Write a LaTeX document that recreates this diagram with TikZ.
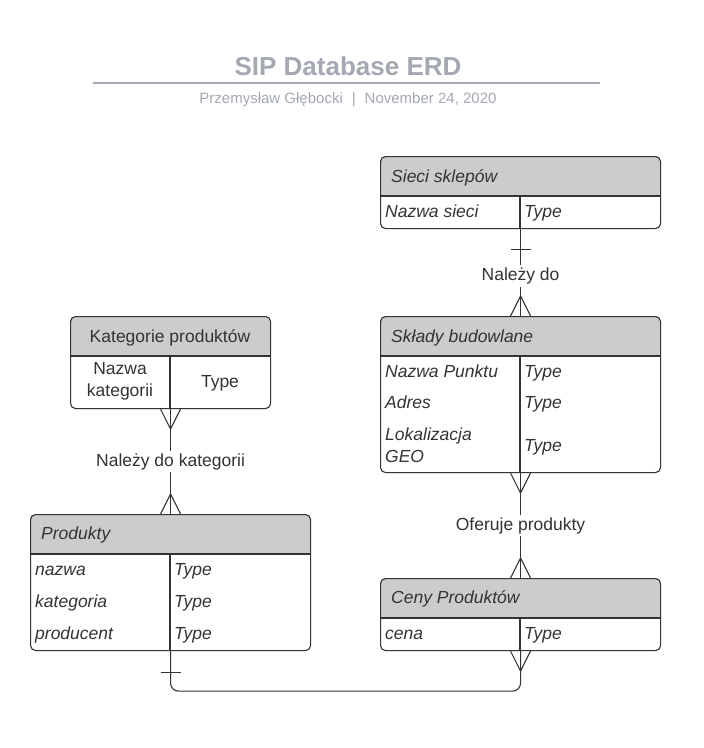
\documentclass[tikz,border=0pt]{standalone}
\usepackage{fontspec}
\setmainfont{Liberation Sans}
\usetikzlibrary{calc}
\definecolor{ttl}{HTML}{A3A8B2}
\definecolor{hdr}{HTML}{CCCCCC}
\definecolor{ink}{HTML}{333333}

\begin{document}
\begin{tikzpicture}[
  x=1pt, y=-1pt,
  font=\fontsize{17.5}{22}\selectfont,
  every node/.style={text=ink, inner sep=0pt},
  tbl/.style={draw=ink, line width=1.1pt, rounded corners=5pt, anchor=north west},
  head/.style={fill=hdr, rounded corners=5pt},
  cell/.style={draw=ink, line width=1.1pt},
  fld/.style={anchor=west, text height=12.5pt, text depth=0pt, font=\fontsize{17.5}{22}\selectfont\itshape},
  rel/.style={draw=ink, line width=1.1pt},
  lbl/.style={fill=white, inner sep=2.5pt}
]
\useasboundingbox (0,0) rectangle (704,748);

% title block
\node[text=ttl, font=\fontsize{26}{30}\selectfont\bfseries] (title) at (348,66) {SIP Database ERD};
\draw[ttl, line width=1.8pt] (93,83) -- (600,83);
\node[text=ttl, font=\fontsize{15}{18}\selectfont] (sub) at (348,100)
  {Przemysław Głębocki\hspace{9pt}|\hspace{9pt}November 24, 2020};

% Sieci sklepow
\fill[head] (380,196) |- (660,156) -- (660,196);
\node[tbl, minimum width=280pt, minimum height=72pt] (sieci) at (380,156) {};
\draw[cell] (380,196) -- (660,196) (520,196) -- (520,228);
\node[fld] (sieci-h) at (391,176) {Sieci sklepów};
\node[fld] (sieci-n) at (385,211) {Nazwa sieci};
\node[fld] (sieci-t) at (524,211) {Type};

% Sklady budowlane
\fill[head] (380,356) |- (660,316) -- (660,356);
\node[tbl, minimum width=280pt, minimum height=156pt] (sklady) at (380,316) {};
\draw[cell] (380,356) -- (660,356) (520,356) -- (520,472);
\node[fld] (sklady-h) at (391,336) {Składy budowlane};
\node[fld] (sklady-n) at (385,371) {Nazwa Punktu};
\node[fld] (sklady-nt) at (524,371) {Type};
\node[fld] (sklady-a) at (385,402) {Adres};
\node[fld] (sklady-at) at (524,402) {Type};
\node[fld, text height=, text depth=, align=left] (sklady-l) at (385,445) {Lokalizacja\\GEO};
\node[fld] (sklady-lt) at (524,445) {Type};

% Kategorie produktow
\fill[head] (70,356) |- (270,316) -- (270,356);
\node[tbl, minimum width=200pt, minimum height=92pt] (kat) at (70,316) {};
\draw[cell] (70,356) -- (270,356) (170,356) -- (170,408);
\node[text height=12.5pt, text depth=0pt] (kat-h) at (170,336) {Kategorie produktów};
\node[align=center] (kat-n) at (120,381) {Nazwa\\kategorii};
\node[text height=12.5pt, text depth=0pt] (kat-t) at (220,381) {Type};

% Produkty
\fill[head] (30,554) |- (310,514) -- (310,554);
\node[tbl, minimum width=280pt, minimum height=136pt] (produkty) at (30,514) {};
\draw[cell] (30,554) -- (310,554) (170,554) -- (170,650);
\node[fld] (prod-h) at (41,533) {Produkty};
\node[fld] (prod-n) at (35,569) {nazwa};
\node[fld] (prod-nt) at (174,569) {Type};
\node[fld] (prod-k) at (35,601) {kategoria};
\node[fld] (prod-kt) at (174,601) {Type};
\node[fld] (prod-p) at (35,633) {producent};
\node[fld] (prod-pt) at (174,633) {Type};

% Ceny Produktow
\fill[head] (380,618) |- (660,578) -- (660,618);
\node[tbl, minimum width=280pt, minimum height=72pt] (ceny) at (380,578) {};
\draw[cell] (380,618) -- (660,618) (520,618) -- (520,650);
\node[fld] (ceny-h) at (391,597) {Ceny Produktów};
\node[fld] (ceny-c) at (385,633) {cena};
\node[fld] (ceny-t) at (524,633) {Type};

% relationships
\draw[rel] (sieci.south) -- node[lbl, pos=0.54] {Należy do} (sklady.north);
\draw[rel] ($(sieci.south)+(-10,20)$) -- ++(20,0);
\draw[rel] ($(sklady.north)+(-10,0)$) -- ++(10,-20) -- ++(10,20);

\draw[rel] (kat.south) -- node[lbl] {Należy do kategorii} (produkty.north);
\draw[rel] ($(kat.south)+(-10,0)$) -- ++(10,20) -- ++(10,-20);
\draw[rel] ($(produkty.north)+(-10,0)$) -- ++(10,-20) -- ++(10,20);

\draw[rel] (sklady.south) -- node[lbl] {Oferuje produkty} (ceny.north);
\draw[rel] ($(sklady.south)+(-10,0)$) -- ++(10,20) -- ++(10,-20);
\draw[rel] ($(ceny.north)+(-10,0)$) -- ++(10,-20) -- ++(10,20);

\draw[rel, rounded corners=8pt] (produkty.south) |- ($(ceny.south)+(0,40)$) -- (ceny.south);
\draw[rel] ($(produkty.south)+(-10,21)$) -- ++(20,0);
\draw[rel] ($(ceny.south)+(-10,0)$) -- ++(10,20) -- ++(10,-20);
\end{tikzpicture}
\end{document}
